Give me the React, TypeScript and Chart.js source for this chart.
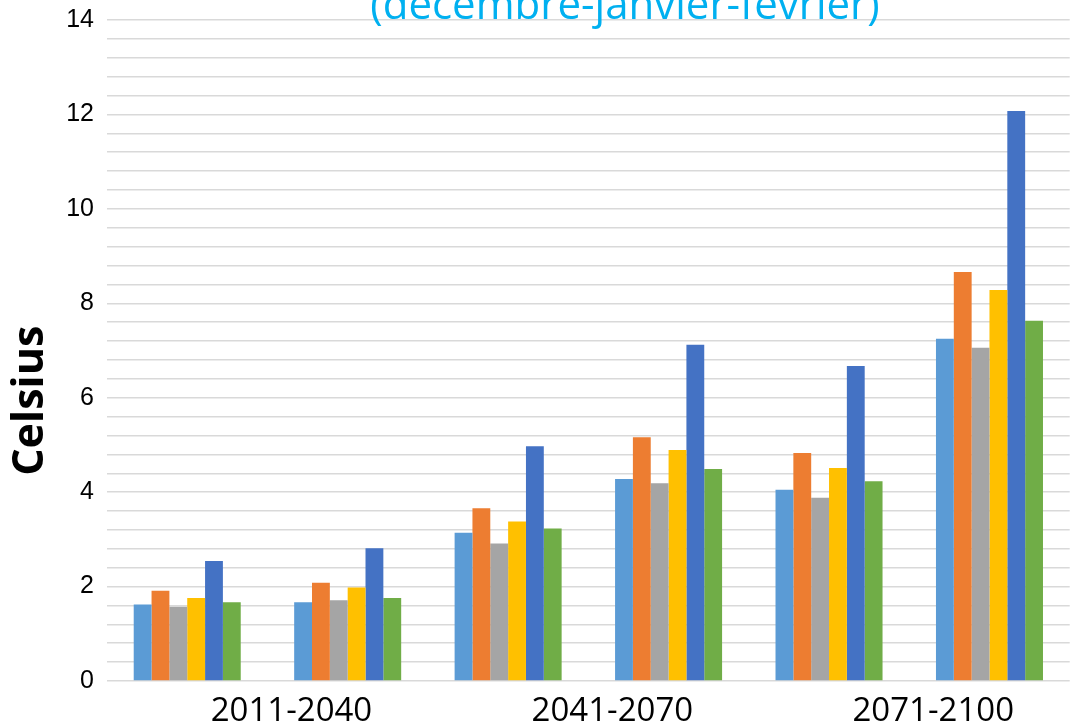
import React, { useEffect, useRef } from "react";
import { Chart, registerables } from "chart.js";

Chart.register(...registerables);

// Six groups of bars (two per 30-year period); only the periods are labelled
const categories = [
  "2011-2040 (1)",
  "2011-2040 (2)",
  "2041-2070 (1)",
  "2041-2070 (2)",
  "2071-2100 (1)",
  "2071-2100 (2)",
];
const periodLabels = ["2011-2040", "2041-2070", "2071-2100"];

const serie1 = [1.62, 1.67, 3.14, 4.28, 4.05, 7.25];
const serie2 = [1.91, 2.08, 3.66, 5.16, 4.83, 8.66];
const serie3 = [1.57, 1.71, 2.91, 4.19, 3.88, 7.06];
const serie4 = [1.76, 1.98, 3.38, 4.89, 4.51, 8.28];
const serie5 = [2.54, 2.81, 4.97, 7.12, 6.67, 12.07];
const serie6 = [1.67, 1.76, 3.23, 4.49, 4.23, 7.63];

const seriesNames = ["Série 1", "Série 2", "Série 3", "Série 4", "Série 5", "Série 6"];
const seriesColors = ["#5B9BD5", "#ED7D31", "#A5A5A5", "#FFC000", "#4472C4", "#70AD47"];

const titleText = "(décembre-janvier-février)";
const yTitle = "Celsius";

export default function App() {
  const ref = useRef<HTMLCanvasElement | null>(null);

  useEffect(() => {
    if (!ref.current) return;
    const all = [serie1, serie2, serie3, serie4, serie5, serie6];
    const chart = new Chart(ref.current, {
      type: "bar",
      data: {
        labels: categories,
        datasets: all.map((d, i) => ({
          label: seriesNames[i],
          data: d,
          backgroundColor: seriesColors[i],
          borderWidth: 0,
          categoryPercentage: 0.667,
          barPercentage: 1.0,
        })),
      },
      options: {
        responsive: false,
        animation: false,
        devicePixelRatio: 1,
        layout: { padding: { top: -5, left: 0, right: 0, bottom: -16 } },
        plugins: {
          legend: { display: false },
          tooltip: { enabled: false },
          title: {
            display: true,
            text: titleText,
            color: "#00B0F0",
            font: { family: "'Open Sans'", size: 42, lineHeight: 0.595, weight: "normal" },
            padding: 0,
          },
        },
        scales: {
          x: {
            type: "category",
            display: false,
            offset: true,
          },
          x2: {
            type: "category",
            labels: periodLabels,
            position: "bottom",
            offset: true,
            grid: { display: false, drawTicks: false },
            border: { display: false },
            ticks: {
              color: "#000",
              font: { family: "'Open Sans'", size: 33, lineHeight: 1.0 },
              padding: 14.5,
              labelOffset: 24,
              maxRotation: 0,
              autoSkip: false,
            },
          },
          y: {
            min: 0,
            max: 14,
            afterFit: (scale: any) => {
              scale.width = 107;
            },
            grid: { color: "#d9d9d9", lineWidth: 1.5, drawTicks: false },
            border: { display: false },
            ticks: {
              stepSize: 0.4,
              autoSkip: false,
              padding: 13,
              color: "#000",
              font: { family: "'Liberation Sans'", size: 25, lineHeight: 0.5 },
              callback: (v: any) => {
                const n = Number(v);
                const r = n / 2;
                return Math.abs(r - Math.round(r)) < 1e-6 ? String(Math.round(n)) : "";
              },
            },
            title: {
              display: true,
              text: yTitle + "         ",
              color: "#000",
              font: { family: "'Open Sans'", size: 43, weight: "bold" },
              padding: { top: 5, bottom: 0 },
            },
          },
          yRight: {
            position: "right",
            display: true,
            afterFit: (scale: any) => {
              scale.width = 180.3;
            },
            grid: { display: false, drawTicks: false },
            border: { display: false },
            ticks: { display: false },
          },
        },
      },
    });
    return () => chart.destroy();
  }, []);

  return (
    <div
      style={{
        position: "fixed",
        left: 0,
        top: 0,
        width: 1073,
        height: 727,
        overflow: "hidden",
        background: "#fff",
      }}
    >
      <canvas ref={ref} width={1250} height={727} style={{ display: "block" }} />
    </div>
  );
}
